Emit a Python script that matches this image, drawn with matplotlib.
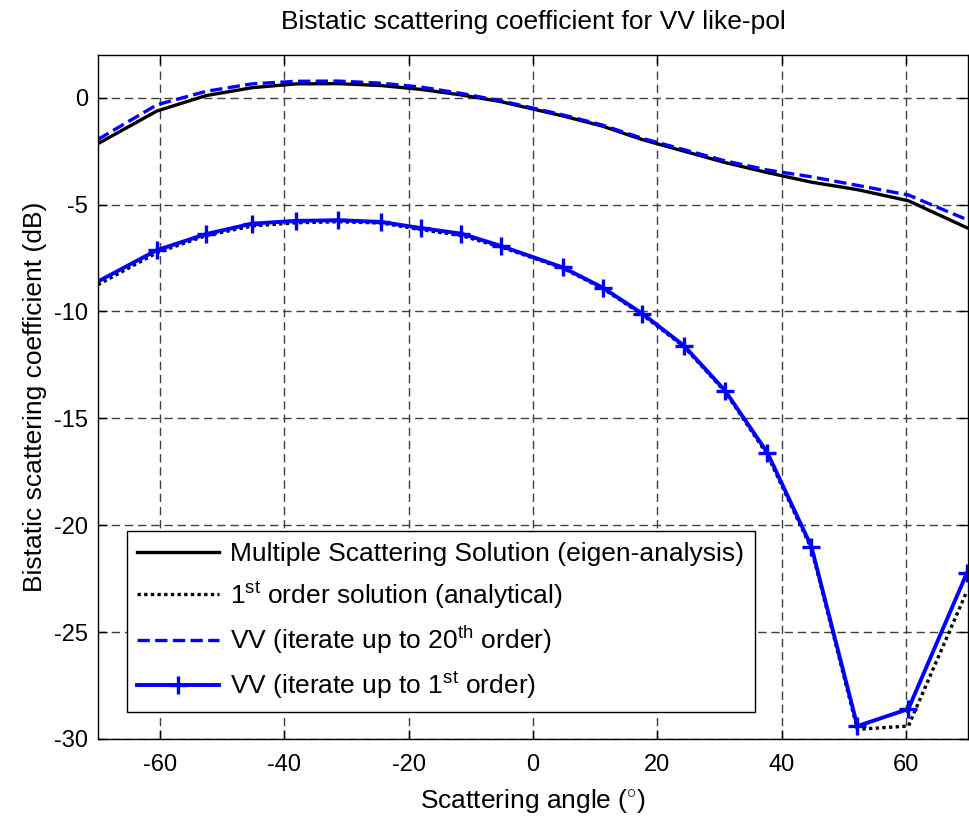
import matplotlib
matplotlib.use("Agg")
import matplotlib.pyplot as plt

# scattering angles (deg) of the computed points
angle = [-70, -60.5, -52.6, -45.2, -38.1, -31.3, -24.4, -18.0, -11.5, -5.2,
         4.8, 11.2, 17.6, 24.3, 30.9, 37.7, 44.8, 52.2, 60.4, 69.8]

# bistatic coefficients in dB
eigen_multi = [-2.15, -0.62, 0.10, 0.47, 0.65, 0.66, 0.57, 0.39, 0.13, -0.18,
               -0.85, -1.33, -1.96, -2.50, -3.03, -3.50, -3.95, -4.30, -4.82, -6.08]
first_analytical = [-8.75, -7.25, -6.45, -6.00, -5.85, -5.80, -5.86, -6.17, -6.45, -6.98,
                    -7.97, -8.92, -10.15, -11.65, -13.75, -16.70, -21.10, -29.55, -29.40, -23.1]
iter_20 = [-1.95, -0.33, 0.30, 0.65, 0.77, 0.78, 0.68, 0.50, 0.20, -0.14,
           -0.80, -1.28, -1.90, -2.43, -2.95, -3.38, -3.70, -4.10, -4.55, -5.70]
iter_1 = [-8.60, -7.13, -6.38, -5.89, -5.76, -5.73, -5.81, -6.10, -6.36, -6.93,
          -7.94, -8.88, -10.10, -11.60, -13.70, -16.60, -21.00, -29.40, -28.60, -22.25]

plt.rcParams['font.family'] = ['Liberation Sans', 'DejaVu Sans']
plt.rcParams['mathtext.fontset'] = 'custom'
plt.rcParams['mathtext.rm'] = 'Liberation Sans'
plt.rcParams['mathtext.it'] = 'Liberation Sans'
plt.rcParams['axes.unicode_minus'] = False
plt.rcParams['font.size'] = 19

fig = plt.figure(figsize=(9.69, 8.21), dpi=100)
ax = fig.add_axes([0.101, 0.100, 0.898, 0.833])

ax.plot(angle, eigen_multi, color='k', lw=2.4,
        label='Multiple Scattering Solution (eigen-analysis)')
ax.plot(angle, first_analytical, color='k', lw=2.4, linestyle=(0, (1, 1)),
        label=r'1$^{\mathrm{st}}$ order solution (analytical)')
ax.plot(angle, iter_20, color='b', lw=2.4, linestyle='--',
        label=r'VV (iterate up to 20$^{\mathrm{th}}$ order)')
ax.plot(angle, iter_1, color='b', lw=2.8, marker='+', markersize=13, mew=2.4,
        markevery=slice(1, None), label=r'VV (iterate up to 1$^{\mathrm{st}}$ order)')

ax.set_xlim(-70, 70)
ax.set_ylim(-30, 2)
ax.set_xticks(range(-60, 61, 20))
ax.set_yticks(range(-30, 1, 5))
ax.tick_params(direction='in', top=True, right=True, length=6.5, width=1,
               labelsize=17)
ax.tick_params(axis='x', pad=11)
ax.tick_params(axis='y', pad=7)
ax.grid(True, color='0.25', lw=1.0, linestyle=(0, (6, 3.5)))
for sp in ax.spines.values():
    sp.set_linewidth(1.0)

ax.set_title('Bistatic scattering coefficient for VV like-pol', fontsize=19, pad=19)
ax.set_xlabel(r'Scattering angle ($^{\circ}$)', labelpad=8)
ax.set_ylabel('Bistatic scattering coefficient (dB)', labelpad=5)

leg = ax.legend(loc='lower left', bbox_to_anchor=(0.033, 0.04), borderaxespad=0,
                fancybox=False, edgecolor='k', framealpha=1, handlelength=3.1,
                handletextpad=0.42, labelspacing=0.52, fontsize=19)
leg.get_frame().set_linewidth(1.0)

fig.savefig('out.png', dpi=100)
